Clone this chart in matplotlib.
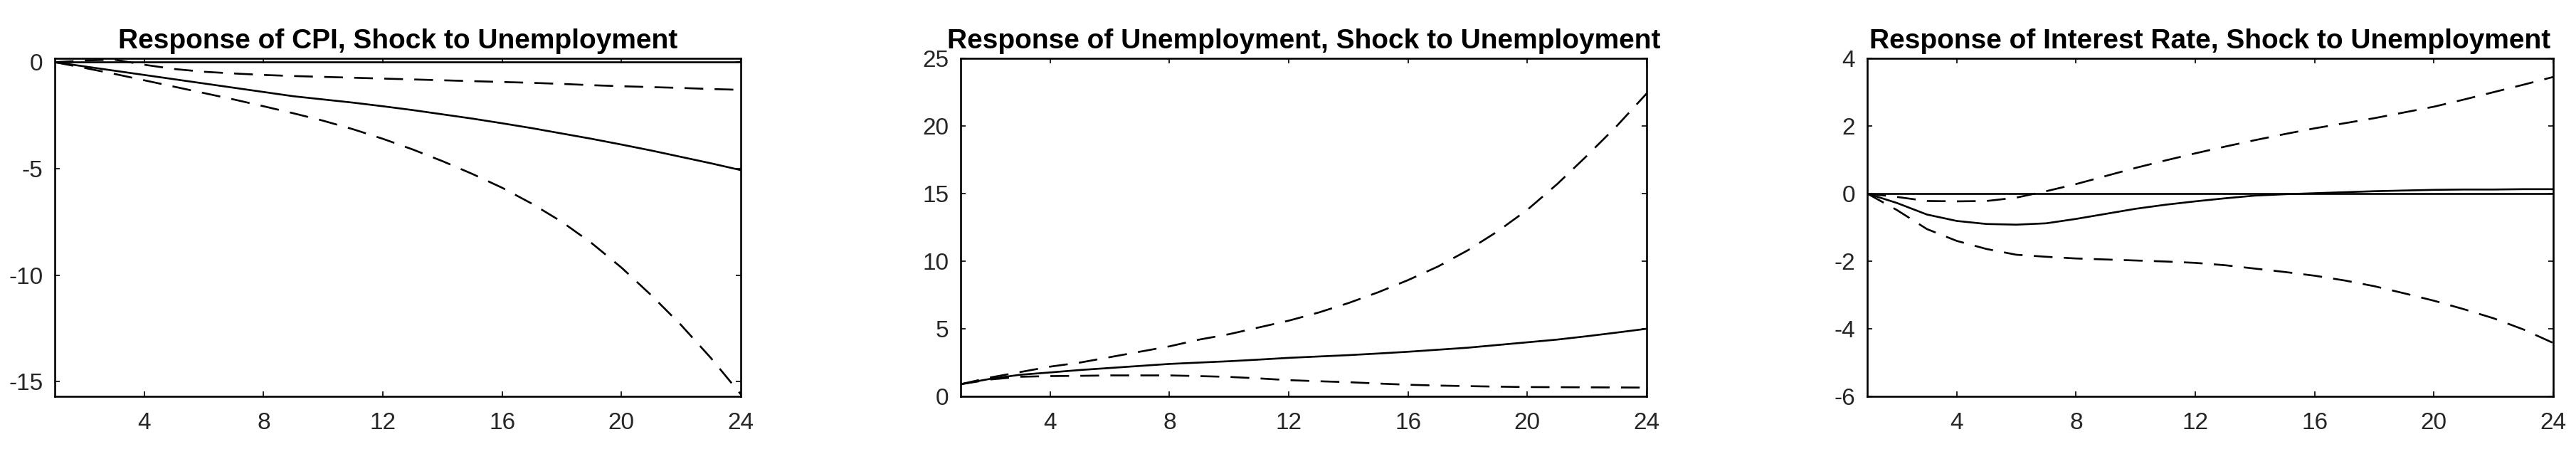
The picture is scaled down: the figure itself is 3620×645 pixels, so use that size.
import numpy as np
import matplotlib
matplotlib.use("Agg")
import matplotlib.pyplot as plt

plt.rcParams['font.family'] = ['Liberation Sans', 'DejaVu Sans']
plt.rcParams['axes.unicode_minus'] = False

horizon = list(range(1, 25))

# response of CPI
cpi_irf = [0, -0.2, -0.4, -0.6, -0.8, -1.0, -1.2, -1.4, -1.6, -1.75, -1.9, -2.07,
           -2.25, -2.45, -2.65, -2.87, -3.1, -3.35, -3.6, -3.87, -4.15, -4.45, -4.75, -5.07]
cpi_upper = [0, 0.08, 0.12, -0.12, -0.32, -0.45, -0.53, -0.6, -0.65, -0.69, -0.73, -0.77,
             -0.81, -0.85, -0.89, -0.93, -0.97, -1.02, -1.08, -1.13, -1.17, -1.21, -1.26, -1.3]
cpi_lower = [0, -0.27, -0.55, -0.85, -1.15, -1.45, -1.75, -2.07, -2.4, -2.75, -3.15, -3.6,
             -4.1, -4.65, -5.25, -5.9, -6.65, -7.5, -8.5, -9.65, -10.95, -12.35, -13.9, -15.6]

# response of unemployment
unemp_irf = [0.9, 1.3, 1.6, 1.77, 1.95, 2.1, 2.25, 2.4, 2.5, 2.6, 2.72, 2.85,
             2.95, 3.05, 3.17, 3.3, 3.45, 3.6, 3.8, 4.0, 4.2, 4.45, 4.72, 5.0]
unemp_upper = [0.9, 1.4, 1.8, 2.2, 2.5, 2.9, 3.3, 3.7, 4.2, 4.6, 5.1, 5.6,
               6.2, 6.9, 7.7, 8.6, 9.6, 10.8, 12.2, 13.8, 15.7, 17.8, 20.0, 22.4]
unemp_lower = [0.9, 1.25, 1.45, 1.5, 1.52, 1.55, 1.55, 1.55, 1.5, 1.44, 1.33, 1.2,
               1.12, 1.05, 0.95, 0.86, 0.8, 0.76, 0.72, 0.69, 0.68, 0.67, 0.66, 0.65]

# response of interest rate
rate_irf = [0, -0.28, -0.62, -0.81, -0.9, -0.92, -0.88, -0.75, -0.6, -0.45, -0.33, -0.23,
            -0.14, -0.06, -0.02, 0.01, 0.04, 0.07, 0.09, 0.11, 0.12, 0.12, 0.13, 0.13]
rate_upper = [0, -0.1, -0.22, -0.23, -0.22, -0.12, 0.07, 0.28, 0.52, 0.76, 0.98, 1.19,
              1.39, 1.58, 1.76, 1.93, 2.08, 2.23, 2.4, 2.57, 2.78, 3.0, 3.22, 3.45]
rate_lower = [0, -0.49, -1.05, -1.4, -1.64, -1.81, -1.87, -1.92, -1.95, -1.98, -2.01, -2.05,
              -2.12, -2.22, -2.32, -2.43, -2.57, -2.74, -2.95, -3.17, -3.42, -3.69, -4.02, -4.42]

titles = ["Response of CPI, Shock to Unemployment",
          "Response of Unemployment, Shock to Unemployment",
          "Response of Interest Rate, Shock to Unemployment"]
panels = [(cpi_irf, cpi_upper, cpi_lower),
          (unemp_irf, unemp_upper, unemp_lower),
          (rate_irf, rate_upper, rate_lower)]
ylims = [(-15.7, 0.18), (0, 25), (-6, 4)]
yticks = [[-15, -10, -5, 0], [0, 5, 10, 15, 20, 25], [-6, -4, -2, 0, 2, 4]]
lefts = [77, 1350, 2624]

fig = plt.figure(figsize=(36.2, 6.45), dpi=100)
dash = (0, (10, 6))

for k in range(3):
    ax = fig.add_axes([lefts[k] / 3620, 88 / 645, 964 / 3620, 475 / 645])
    irf, up, lo = panels[k]
    ax.plot(horizon, [0] * len(horizon), color='black', lw=1.9)
    ax.plot(horizon, irf, color='black', lw=1.9)
    ax.plot(horizon, up, color='black', lw=1.9, linestyle=dash)
    ax.plot(horizon, lo, color='black', lw=1.9, linestyle=dash)
    ax.set_xlim(1, 24)
    ax.set_ylim(*ylims[k])
    ax.set_xticks([4, 8, 12, 16, 20, 24])
    ax.set_yticks(yticks[k])
    ax.tick_params(direction='in', top=True, right=True, length=5, width=1.2,
                   labelsize=24, labelcolor='#262626')
    ax.tick_params(axis='x', pad=16)
    ax.tick_params(axis='y', pad=12)
    for s in ax.spines.values():
        s.set_linewidth(1.9)
    ax.set_title(titles[k], fontsize=28, fontweight='bold', pad=10)

fig.savefig("out.png", dpi=100)
